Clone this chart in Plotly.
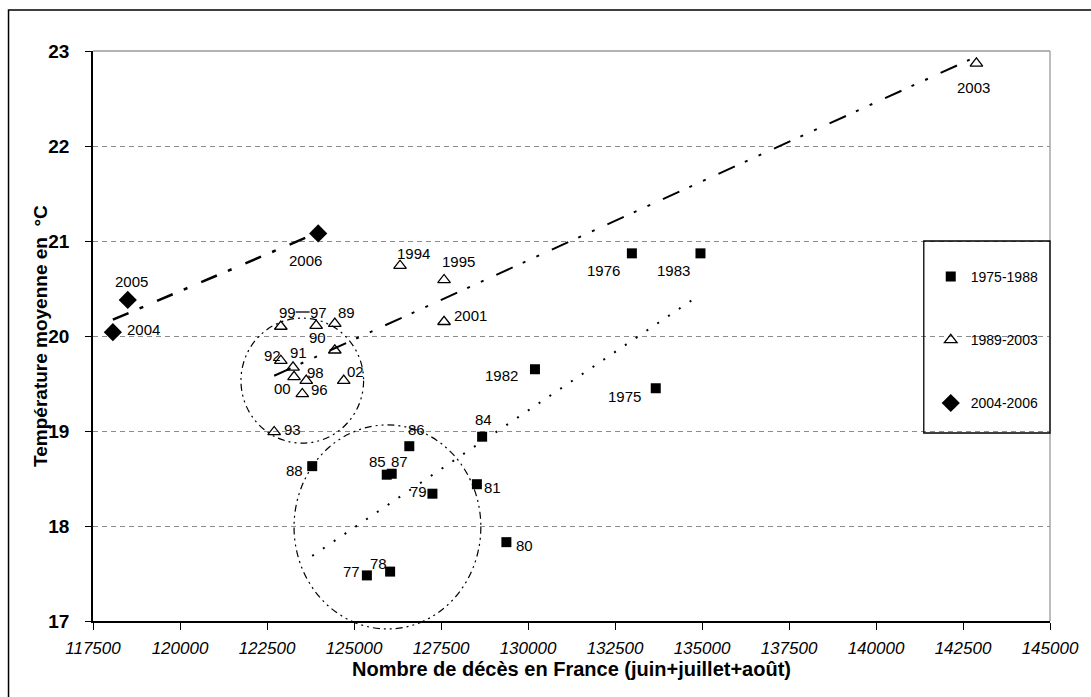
import numpy as np
import plotly.graph_objects as go

# ---------------- data ----------------
years_a = [1975, 1976, 1977, 1978, 1979, 1980, 1981, 1982, 1983, 1984, 1985, 1986, 1987, 1988]
deaths_a = [133671, 132985, 125370, 126038, 127254, 129379, 128531, 130200, 134956, 128682, 125941, 126589, 126084, 123799]
temp_a = [19.45, 20.87, 17.48, 17.52, 18.34, 17.83, 18.44, 19.65, 20.87, 18.94, 18.54, 18.84, 18.55, 18.63]
labels_a = ["1975", "1976", "77", "78", "79", "80", "81", "1982", "1983", "84", "85", "86", "87", "88"]

years_b = [1989, 1990, 1991, 1992, 1993, 1994, 1995, 1996, 1997, 1998, 1999, 2000, 2001, 2002, 2003]
deaths_b = [124448, 124448, 123248, 122897, 122706, 126323, 127588, 123514, 123913, 123628, 122897, 123277, 127588, 124705, 142886]
temp_b = [20.13, 19.85, 19.67, 19.74, 18.99, 20.74, 20.59, 19.39, 20.11, 19.53, 20.10, 19.57, 20.15, 19.53, 22.87]
labels_b = ["89", "90", "91", "92", "93", "1994", "1995", "96", "97", "98", "99", "00", "2001", "02", "2003"]

years_c = [2004, 2005, 2006]
deaths_c = [118071, 118499, 123971]
temp_c = [20.04, 20.38, 21.08]
labels_c = ["2004", "2005", "2006"]

series_names = ["1975-1988", "1989-2003", "2004-2006"]
x_ticks = [117500, 120000, 122500, 125000, 127500, 130000, 132500, 135000, 137500, 140000, 142500, 145000]
y_ticks = [17, 18, 19, 20, 21, 22, 23]
x_title = "Nombre de décès en France (juin+juillet+août)"
y_title = "Température moyenne en  °C"

# ---------------- label offsets (px, +dy = down) ----------------
off_a = [(-31, 8), (-28, 17), (-15, -4), (-12, -8), (-14, -2), (18, 3), (16, 3),
         (-33, 6), (-27, 17), (1, -17), (-9, -13), (7, -17), (8, -12), (-18, 4)]
off_b = [(12, -11), (-17, -13), (5, -15), (-8, -5), (18, -2), (13, -12), (14, -18),
         (17, -4), (2, -13), (9, -8), (7, -14), (-12, 12), (26, -6), (12, -9), (-3, 24)]
off_c = [(31, -3), (4, -18), (-13, 27)]

# ---------------- layout geometry ----------------
W, H = 1091, 697
ML, MR, MT, MB = 93, 35, 51, 76
PW, PH = W - ML - MR, H - MT - MB
XR = [x_ticks[0], x_ticks[-1]]
YR = [y_ticks[0], y_ticks[-1]]


def px2paper(px, py):
    return (px - ML) / PW, (H - MB - py) / PH


def px2data(px, py):
    return (XR[0] + (px - ML) / PW * (XR[1] - XR[0]),
            YR[0] + (H - MB - py) / PH * (YR[1] - YR[0]))


FONT = "Liberation Sans, Arial, sans-serif"

fig = go.Figure()

# trendlines (least squares through each series, spanning its x range)
line_styles = [
    dict(color="black", width=2, dash="2px,11px"),
    dict(color="black", width=2, dash="18px,11px,3px,12px,3px,14px"),
    dict(color="black", width=2.5, dash="17px,12px,4px,15px"),
]
for xs, ys, st in [(deaths_a, temp_a, line_styles[0]),
                   (deaths_b, temp_b, line_styles[1]),
                   (deaths_c, temp_c, line_styles[2])]:
    k, b = np.polyfit(xs, ys, 1)
    xx = np.array([min(xs), max(xs)], dtype=float)
    fig.add_trace(go.Scatter(x=xx, y=k * xx + b, mode="lines", line=st,
                             showlegend=False, hoverinfo="skip"))

# markers
fig.add_trace(go.Scatter(x=deaths_a, y=temp_a, mode="markers", name=series_names[0],
                         legendgroup="a",
                         marker=dict(symbol="square", size=10, color="black")))
fig.add_trace(go.Scatter(x=deaths_b, y=temp_b, mode="markers", name=series_names[1],
                         legendgroup="b",
                         marker=dict(symbol="triangle-up-open", size=11, color="black",
                                     line=dict(width=1.3, color="black"))))
fig.add_trace(go.Scatter(x=deaths_c, y=temp_c, mode="markers", name=series_names[2],
                         legendgroup="c",
                         marker=dict(symbol="diamond", size=14, color="black")))

annotations = []
for xs, ys, labs, offs in [(deaths_a, temp_a, labels_a, off_a),
                           (deaths_b, temp_b, labels_b, off_b),
                           (deaths_c, temp_c, labels_c, off_c)]:
    for x, y, t, (dx, dy) in zip(xs, ys, labs, offs):
        annotations.append(dict(x=x, y=y, xref="x", yref="y", text=t, showarrow=False,
                                xshift=dx, yshift=-dy,
                                font=dict(family=FONT, size=15, color="black")))

# axis titles
annotations.append(dict(text=y_title, xref="paper", yref="paper",
                        x=px2paper(27, 0)[0], y=0.5, textangle=-90, showarrow=False,
                        font=dict(family=FONT, size=19, color="black", weight="bold")))
annotations.append(dict(text=x_title, xref="paper", yref="paper",
                        x=0.5, y=px2paper(0, 682)[1], showarrow=False,
                        font=dict(family=FONT, size=20, color="black", weight="bold")))

shapes = []
# top & right plot border (gray)
shapes.append(dict(type="line", xref="paper", yref="paper", x0=0, x1=1, y0=1, y1=1,
                   line=dict(color="#9a9a9a", width=1.3)))
shapes.append(dict(type="line", xref="paper", yref="paper", x0=1, x1=1, y0=0, y1=1,
                   line=dict(color="#9a9a9a", width=1.3)))
# outer frame
fx0, fy0 = px2paper(8, 10)
fx1, fy1 = px2paper(1130, 740)
shapes.append(dict(type="rect", xref="paper", yref="paper", x0=fx0, x1=fx1, y0=fy1, y1=fy0,
                   line=dict(color="black", width=1.5)))
# legend box
lx0, ly0 = px2paper(929, 241)
lx1, ly1 = px2paper(1056, 433)
shapes.append(dict(type="rect", xref="paper", yref="paper", x0=lx0, x1=lx1, y0=ly1, y1=ly0,
                   line=dict(color="black", width=1.3)))
# dash-dot ellipses around clusters (center / radii in data units)
circles = [((123514, 19.53), (1762, 0.658)), ((125961, 17.99), (2684, 1.074))]
for (cx, cy), (rx, ry) in circles:
    shapes.append(dict(type="circle", xref="paper", yref="paper",
                       x0=(cx - rx - XR[0]) / (XR[1] - XR[0]), x1=(cx + rx - XR[0]) / (XR[1] - XR[0]),
                       y0=(cy - ry - YR[0]) / (YR[1] - YR[0]), y1=(cy + ry - YR[0]) / (YR[1] - YR[0]),
                       line=dict(color="black", width=1.2, dash="7px,4px,2px,4px,2px,4px")))
# leader between the "99" and "97" labels
lx_a, ly_a = px2data(297, 312)
lx_b, _ = px2data(311, 312)
shapes.append(dict(type="line", xref="x", yref="y", x0=lx_a, x1=lx_b, y0=ly_a, y1=ly_a,
                   line=dict(color="black", width=1.3)))

lgx, lgy = px2paper(936, 261)
fig.update_layout(
    width=W, height=H, autosize=False,
    margin=dict(l=ML, r=MR, t=MT, b=MB, pad=0),
    paper_bgcolor="white", plot_bgcolor="white",
    showlegend=True,
    legend=dict(x=lgx, y=lgy, xanchor="left", yanchor="top", bgcolor="rgba(0,0,0,0)",
                borderwidth=0, tracegroupgap=42, traceorder="grouped",
                font=dict(family=FONT, size=14, color="black")),
    xaxis=dict(range=XR, tickvals=x_ticks, ticktext=[str(v) for v in x_ticks],
               showgrid=False, zeroline=False, showline=True, linecolor="black", linewidth=1.5,
               ticks="outside", ticklen=7, tickwidth=1.3, tickcolor="black",
               tickfont=dict(family=FONT, size=17, color="black", style="italic"),
               ticklabelstandoff=4),
    yaxis=dict(range=YR, tickvals=y_ticks, showgrid=True, gridcolor="#8c8c8c", gridwidth=1,
               griddash="5px,4px", zeroline=False, showline=True, linecolor="black", linewidth=1.5,
               ticks="outside", ticklen=6, tickwidth=1.3, tickcolor="black",
               tickfont=dict(family=FONT, size=19, color="black", weight="bold"),
               ticklabelstandoff=12),
    annotations=annotations,
    shapes=shapes,
)

fig.write_html("out.html")
